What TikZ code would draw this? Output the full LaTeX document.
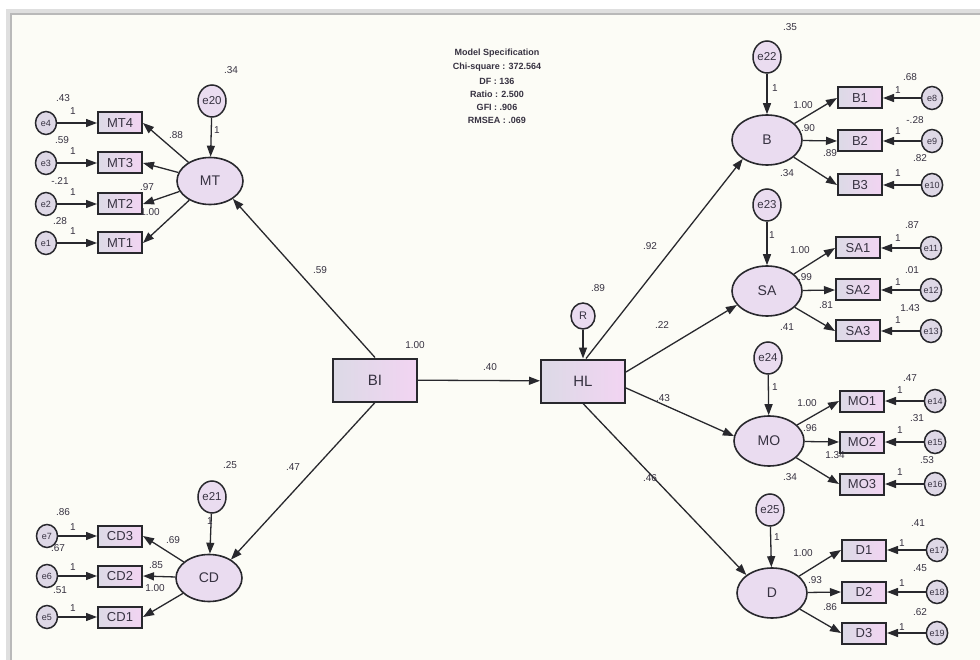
\documentclass[tikz,border=0pt]{standalone}
\usepackage{fontspec}
\setmainfont{Liberation Sans}
\usetikzlibrary{arrows.meta,shapes.geometric}
\definecolor{bgc}{RGB}{252,252,246}
\definecolor{linec}{RGB}{40,40,45}
\definecolor{txt}{RGB}{55,50,65}
\definecolor{boxl}{RGB}{220,218,230}
\definecolor{boxr}{RGB}{242,212,242}
\definecolor{latc}{RGB}{234,220,240}
\definecolor{errc}{RGB}{222,216,230}
\begin{document}
\begin{tikzpicture}[x=1pt,y=-1pt,
  obs/.style={draw=linec, line width=2pt, minimum width=44pt, minimum height=21pt, inner sep=0pt,
    left color=boxl, right color=boxr, text=txt, font=\fontsize{13}{13}\selectfont},
  big/.style={obs, minimum width=84pt, minimum height=43pt, font=\fontsize{15}{15}\selectfont},
  lat/.style={ellipse, draw=linec, line width=1.6pt, minimum width=70pt, minimum height=50pt, inner sep=0pt,
    fill=latc, text=txt, font=\fontsize{14}{14}\selectfont},
  latl/.style={lat, minimum width=66pt, minimum height=47pt},
  err/.style={ellipse, draw=linec, line width=1.5pt, minimum width=21pt, minimum height=23pt, inner sep=0pt,
    fill=errc, text=txt, font=\fontsize{9}{9}\selectfont},
  berr/.style={ellipse, draw=linec, line width=1.5pt, minimum width=28pt, minimum height=32pt, inner sep=0pt,
    fill=latc, text=txt, font=\fontsize{11.5}{11.5}\selectfont},
  lab/.style={inner sep=0pt, text=txt, font=\fontsize{10}{10}\selectfont},
  spec/.style={inner sep=0pt, text=txt, font=\fontsize{9}{9}\selectfont\bfseries},
  arr/.style={-{Triangle[length=11pt,width=8pt]}, line width=1.3pt, draw=linec}
]
\useasboundingbox (0,0) rectangle (980,660);
\fill[white] (0,0) rectangle (980,660);
\fill[bgc] (11,14) rectangle (980,660);
\draw[gray!25, line width=4pt] (8,660) -- (8,11) -- (980,11);
\draw[gray!55, line width=1.5pt] (11,660) -- (11,14) -- (980,14);

% model specification
\node[spec] (s1) at (497,53) {Model Specification};
\node[spec] (s2) at (497,67) {Chi-square : 372.564};
\node[spec] (s3) at (497,81) {DF : 136};
\node[spec] (s4) at (497,94) {Ratio : 2.500};
\node[spec] (s5) at (497,107) {GFI : .906};
\node[spec] (s6) at (497,120) {RMSEA : .069};

% center
\node[big] (BI) at (375,380) {BI};
\node[big] (HL) at (583,381) {HL};
\node[err, minimum width=24pt, minimum height=26pt, fill=latc, font=\fontsize{11}{11}\selectfont] (R) at (583,316) {R};

% MT block
\node[latl] (MT) at (210,181) {MT};
\node[berr] (e20) at (212,101) {e20};
\node[obs] (MT4) at (120,123) {MT4};
\node[obs] (MT3) at (120,163) {MT3};
\node[obs] (MT2) at (120,204) {MT2};
\node[obs] (MT1) at (120,243) {MT1};
\node[err] (e4) at (46,123) {e4};
\node[err] (e3) at (46,163) {e3};
\node[err] (e2) at (46,204) {e2};
\node[err] (e1) at (46,243) {e1};

% CD block
\node[latl] (CD) at (209,578) {CD};
\node[berr] (e21) at (212,497) {e21};
\node[obs] (CD3) at (120,536) {CD3};
\node[obs] (CD2) at (120,576) {CD2};
\node[obs] (CD1) at (120,617) {CD1};
\node[err] (e7) at (47,536) {e7};
\node[err] (e6) at (47,576) {e6};
\node[err] (e5) at (47,617) {e5};

% B block
\node[lat] (B) at (767,140) {B};
\node[berr] (e22) at (767,57) {e22};
\node[obs] (B1) at (860,98) {B1};
\node[obs] (B2) at (860,141) {B2};
\node[obs] (B3) at (860,185) {B3};
\node[err] (e8) at (932,98) {e8};
\node[err] (e9) at (932,141) {e9};
\node[err] (e10) at (932,185) {e10};

% SA block
\node[lat] (SA) at (767,291) {SA};
\node[berr] (e23) at (767,205) {e23};
\node[obs] (SA1) at (858,248) {SA1};
\node[obs] (SA2) at (858,290) {SA2};
\node[obs] (SA3) at (858,331) {SA3};
\node[err] (e11) at (931,248) {e11};
\node[err] (e12) at (931,290) {e12};
\node[err] (e13) at (931,331) {e13};

% MO block
\node[lat] (MO) at (769,441) {MO};
\node[berr] (e24) at (768,358) {e24};
\node[obs] (MO1) at (862,401) {MO1};
\node[obs] (MO2) at (862,442) {MO2};
\node[obs] (MO3) at (862,484) {MO3};
\node[err] (e14) at (935,401) {e14};
\node[err] (e15) at (935,442) {e15};
\node[err] (e16) at (935,484) {e16};

% D block
\node[lat] (D) at (772,593) {D};
\node[berr] (e25) at (770,510) {e25};
\node[obs] (D1) at (864,550) {D1};
\node[obs] (D2) at (864,592) {D2};
\node[obs] (D3) at (864,633) {D3};
\node[err] (e17) at (937,550) {e17};
\node[err] (e18) at (937,592) {e18};
\node[err] (e19) at (937,633) {e19};

% structural arrows
\draw[arr] (BI.north) -- (MT.-38);
\draw[arr] (BI.south) -- (CD.40);
\draw[arr] (BI) -- (HL);
\draw[arr] (R) -- (HL);
\draw[arr] ([xshift=3pt]HL.north) -- (B.-142);
\draw[arr] ([yshift=9pt]HL.east) -- (SA.-155);
\draw[arr] ([yshift=-7pt]HL.east) -- (MO.172);
\draw[arr] (HL.south) -- (D.145);

% disturbances
\draw[arr] (e20) -- (MT);
\draw[arr] (e21) -- (CD);
\draw[arr] (e22) -- (B);
\draw[arr] (e23) -- (SA);
\draw[arr] (e24) -- (MO);
\draw[arr] (e25) -- (D);

% loadings left
\foreach \i in {MT4,MT3,MT2,MT1} {\draw[arr] (MT) -- (\i.east);}
\foreach \i in {CD3,CD2,CD1} {\draw[arr] (CD) -- (\i.east);}
\draw[arr] (e4) -- (MT4); \draw[arr] (e3) -- (MT3); \draw[arr] (e2) -- (MT2); \draw[arr] (e1) -- (MT1);
\draw[arr] (e7) -- (CD3); \draw[arr] (e6) -- (CD2); \draw[arr] (e5) -- (CD1);

% loadings right
\foreach \i in {B1,B2,B3} {\draw[arr] (B) -- (\i.west);}
\foreach \i in {SA1,SA2,SA3} {\draw[arr] (SA) -- (\i.west);}
\foreach \i in {MO1,MO2,MO3} {\draw[arr] (MO) -- (\i.west);}
\foreach \i in {D1,D2,D3} {\draw[arr] (D) -- (\i.west);}
\draw[arr] (e8) -- (B1); \draw[arr] (e9) -- (B2); \draw[arr] (e10) -- (B3);
\draw[arr] (e11) -- (SA1); \draw[arr] (e12) -- (SA2); \draw[arr] (e13) -- (SA3);
\draw[arr] (e14) -- (MO1); \draw[arr] (e15) -- (MO2); \draw[arr] (e16) -- (MO3);
\draw[arr] (e17) -- (D1); \draw[arr] (e18) -- (D2); \draw[arr] (e19) -- (D3);

% labels centre
\node[lab] (l1) at (415,345) {1.00};
\node[lab] (l2) at (490,367) {.40};
\node[lab] (l3) at (320,270) {.59};
\node[lab] (l4) at (293,467) {.47};
\node[lab] (l5) at (598,288) {.89};
\node[lab] (l6) at (650,246) {.92};
\node[lab] (l7) at (662,325) {.22};
\node[lab] (l8) at (663,398) {.43};
\node[lab] (l9) at (650,478) {.46};

% labels MT
\node[lab] at (231,70) {.34};
\node[lab] at (217,130) {1};
\node[lab] at (63,98) {.43};  \node[lab] at (73,111) {1};
\node[lab] at (62,140) {.59};  \node[lab] at (73,151) {1};
\node[lab] at (60,181) {-.21}; \node[lab] at (73,192) {1};
\node[lab] at (60,221) {.28};  \node[lab] at (73,231) {1};
\node[lab] at (176,135) {.88};
\node[lab] at (147,187) {.97};
\node[lab] at (150,212) {1.00};

% labels CD
\node[lab] at (230,465) {.25};
\node[lab] at (210,521) {1};
\node[lab] at (63,512) {.86}; \node[lab] at (73,527) {1};
\node[lab] at (58,548) {.67}; \node[lab] at (73,567) {1};
\node[lab] at (60,590) {.51}; \node[lab] at (73,608) {1};
\node[lab] at (173,540) {.69};
\node[lab] at (156,565) {.85};
\node[lab] at (155,588) {1.00};

% labels B
\node[lab] at (790,27) {.35};
\node[lab] at (775,88) {1};
\node[lab] at (910,77) {.68};  \node[lab] at (898,90) {1};
\node[lab] at (915,120) {-.28}; \node[lab] at (898,131) {1};
\node[lab] at (920,158) {.82}; \node[lab] at (898,173) {1};
\node[lab] at (803,105) {1.00};
\node[lab] at (808,128) {.90};
\node[lab] at (830,153) {.89};
\node[lab] at (787,173) {.34};

% labels SA
\node[lab] at (772,235) {1};
\node[lab] at (912,225) {.87}; \node[lab] at (898,238) {1};
\node[lab] at (912,270) {.01}; \node[lab] at (898,282) {1};
\node[lab] at (910,308) {1.43}; \node[lab] at (898,320) {1};
\node[lab] at (800,250) {1.00};
\node[lab] at (805,277) {.99};
\node[lab] at (826,305) {.81};
\node[lab] at (787,327) {.41};

% labels MO
\node[lab] at (775,387) {1};
\node[lab] at (910,378) {.47}; \node[lab] at (900,390) {1};
\node[lab] at (917,418) {.31}; \node[lab] at (900,430) {1};
\node[lab] at (927,460) {.53}; \node[lab] at (900,472) {1};
\node[lab] at (807,403) {1.00};
\node[lab] at (810,428) {.96};
\node[lab] at (835,455) {1.34};
\node[lab] at (790,477) {.34};

% labels D
\node[lab] at (777,537) {1};
\node[lab] at (918,523) {.41}; \node[lab] at (902,543) {1};
\node[lab] at (920,568) {.45}; \node[lab] at (902,583) {1};
\node[lab] at (920,612) {.62}; \node[lab] at (902,627) {1};
\node[lab] at (803,553) {1.00};
\node[lab] at (815,580) {.93};
\node[lab] at (830,607) {.86};
\end{tikzpicture}
\end{document}
